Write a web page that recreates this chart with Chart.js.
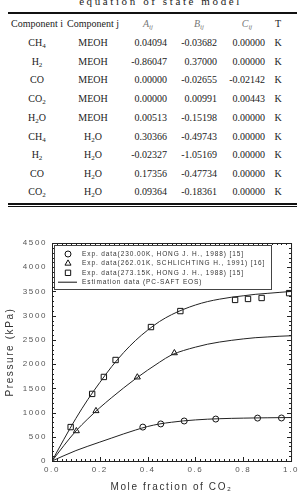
<!DOCTYPE html>
<html>
<head>
<meta charset="utf-8">
<script src="https://cdn.jsdelivr.net/npm/chart.js@4/dist/chart.umd.min.js"></script>
<style>
  body { margin: 0; width: 303px; height: 495px; overflow: hidden; position: relative; background: #fff;
         font-family: "Liberation Serif", "DejaVu Serif", serif; color: #222; }
  #title { position: absolute; left: 0; width: 303px; top: -5px; text-align: center; padding-left: 18px;
           box-sizing: border-box; font-size: 11px; letter-spacing: 2.6px; }
  .rule { position: absolute; left: 8px; width: 289px; background: #111; }
  .cell { position: absolute; font-size: 10px; white-space: nowrap; line-height: 12px; }
  .c { transform: translate(-50%, -50%); }
  .r { transform: translate(-100%, -50%); }
  sub { font-size: 7px; vertical-align: -2px; line-height: 0; }
  .hd { font-style: italic; color: #777; }
  #wrap { position: absolute; left: 0; top: 225px; width: 303px; height: 270px; }
</style>
</head>
<body>
<div id="title">equation of state model</div>
<div class="rule" style="top:12px;height:2px"></div>
<div class="rule" style="top:203px;height:1.5px"></div>
<div class="rule" style="top:206px;height:1px"></div>
<div id="table"></div>
<div id="wrap"><canvas id="chart"></canvas></div>

<script>
// table
const headers = ['Component i', 'Component j', '<i>A</i><sub><i>ij</i></sub>', '<i>B</i><sub><i>ij</i></sub>', '<i>C</i><sub><i>ij</i></sub>', 'T'];
const compI = ['CH<sub>4</sub>', 'H<sub>2</sub>', 'CO', 'CO<sub>2</sub>', 'H<sub>2</sub>O', 'CH<sub>4</sub>', 'H<sub>2</sub>', 'CO', 'CO<sub>2</sub>'];
const compJ = ['MEOH', 'MEOH', 'MEOH', 'MEOH', 'MEOH', 'H<sub>2</sub>O', 'H<sub>2</sub>O', 'H<sub>2</sub>O', 'H<sub>2</sub>O'];
const aij = ['0.04094', '-0.86047', '0.00000', '0.00000', '0.00513', '0.30366', '-0.02327', '0.17356', '0.09364'];
const bij = ['-0.03682', '0.37000', '-0.02655', '0.00991', '-0.15198', '-0.49743', '-1.05169', '-0.47734', '-0.18361'];
const cij = ['0.00000', '0.00000', '-0.02142', '0.00443', '0.00000', '0.00000', '0.00000', '0.00000', '0.00000'];
const unit = ['K', 'K', 'K', 'K', 'K', 'K', 'K', 'K', 'K'];

// chart data
const circX = [0.38, 0.455, 0.553, 0.685, 0.86, 0.96];
const circP = [700, 765, 826, 866, 886, 888];
const triX = [0.102, 0.184, 0.357, 0.512];
const triP = [620, 1035, 1730, 2230];
const sqX = [0.078, 0.168, 0.217, 0.266, 0.414, 0.537, 0.766, 0.82, 0.877, 0.992];
const sqP = [700, 1385, 1735, 2085, 2765, 3095, 3325, 3345, 3365, 3465];
const fitX = [0, 0.05, 0.1, 0.15, 0.2, 0.25, 0.3, 0.35, 0.4, 0.45, 0.5, 0.55, 0.6, 0.65, 0.7, 0.75, 0.8, 0.85, 0.9, 0.95, 1.0];
const fit230 = [0, 110, 215, 305, 390, 475, 560, 640, 712, 765, 800, 828, 848, 863, 873, 880, 885, 889, 892, 895, 897];
const fit262 = [0, 320, 620, 870, 1100, 1310, 1510, 1700, 1875, 2040, 2190, 2280, 2350, 2410, 2455, 2490, 2520, 2545, 2560, 2575, 2585];
const fit273 = [0, 450, 880, 1270, 1620, 1950, 2240, 2490, 2700, 2880, 3020, 3130, 3220, 3290, 3340, 3380, 3410, 3440, 3460, 3480, 3500];
const legendText = [
  'Exp. data(230.00K, HONG J. H., 1988) [15]',
  'Exp. data(262.01K, SCHLICHTING H., 1991) [16]',
  'Exp. data(273.15K, HONG J. H., 1988) [15]',
  'Estimation data (PC-SAFT EOS)'
];

// build table
const rowY = [43, 61.5, 80, 99, 117.5, 136.5, 155, 173.5, 192];
const colX = [37, 93, 167, 217, 265, 278];
const colAlign = ['c', 'c', 'r', 'r', 'r', 'c'];
const table = document.getElementById('table');
function cell(html, x, y, cls) {
  const d = document.createElement('div');
  d.className = 'cell ' + cls;
  d.style.left = x + 'px';
  d.style.top = y + 'px';
  d.innerHTML = html;
  table.appendChild(d);
}
const headX = [37, 93, 148, 199, 247, 278];
headers.forEach((h, i) => cell(h, headX[i], 24, 'c' + (i >= 2 && i <= 4 ? ' hd' : '')));
const cols = [compI, compJ, aij, bij, cij, unit];
rowY.forEach((y, r) => cols.forEach((col, i) => cell(col[r], colX[i], y, colAlign[i])));

const pts = (xs, ys) => xs.map((x, i) => ({x: x, y: ys[i]}));

// frame + inward ticks on all four sides
const frame = {
  id: 'frame',
  beforeDatasetsDraw(c) {
    const {ctx, chartArea: a, scales: {x, y}} = c;
    ctx.save();
    ctx.strokeStyle = '#222';
    ctx.lineWidth = 1;
    ctx.strokeRect(a.left + 0.5, a.top + 0.5, a.right - a.left, a.bottom - a.top);
    ctx.beginPath();
    for (let i = 0; i <= 50; i++) {
      const px = Math.round(x.getPixelForValue(i * 0.02)) + 0.5;
      const len = i % 10 === 0 ? 4 : 2;
      ctx.moveTo(px, a.bottom); ctx.lineTo(px, a.bottom - len);
      ctx.moveTo(px, a.top); ctx.lineTo(px, a.top + len);
    }
    for (let i = 0; i <= 45; i++) {
      const py = Math.round(y.getPixelForValue(i * 100)) + 0.5;
      const len = i % 5 === 0 ? 4 : 2;
      ctx.moveTo(a.left, py); ctx.lineTo(a.left + len, py);
      ctx.moveTo(a.right, py); ctx.lineTo(a.right - len, py);
    }
    ctx.stroke();
    ctx.restore();
  }
};

// legend box inside plot
const legendBox = {
  id: 'legendBox',
  afterDraw(c) {
    const {ctx, chartArea: a} = c;
    const left = a.left + 2.5, top = a.top + 2.5;
    ctx.save();
    ctx.fillStyle = '#fff';
    ctx.fillRect(left, top, 217, 44);
    ctx.strokeStyle = '#444';
    ctx.lineWidth = 1;
    ctx.strokeRect(left, top, 217, 44);
    const styles = ['circle', 'triangle', 'rect'];
    const radii = [3, 3.5, 3.8];
    legendText.forEach((t, i) => {
      const yy = a.top + 11 + i * 9.4;
      ctx.strokeStyle = '#111';
      ctx.fillStyle = '#fff';
      if (i < 3) {
        Chart.helpers.drawPoint(ctx, {pointStyle: styles[i], radius: radii[i], borderWidth: 1}, a.left + 16, yy);
      } else {
        ctx.beginPath();
        ctx.moveTo(a.left + 6, yy); ctx.lineTo(a.left + 25, yy);
        ctx.stroke();
      }
      ctx.fillStyle = '#333';
      ctx.font = '6.5px "Liberation Sans", Arial, sans-serif';
      ctx.letterSpacing = '0.9px';
      ctx.textBaseline = 'middle';
      ctx.fillText(t, a.left + 30, yy);
    });
    ctx.restore();
  }
};

const spacing = {
  id: 'spacing',
  beforeLayout(c) { c.ctx.letterSpacing = '1.6px'; },
  beforeDraw(c) { c.ctx.letterSpacing = '1.6px'; }
};

const scatterSet = (xs, ys, style, r) => ({
  data: pts(xs, ys), pointStyle: style, pointRadius: r, pointHoverRadius: r,
  backgroundColor: 'rgba(0,0,0,0)', borderColor: '#111', borderWidth: 1, showLine: false
});
const fitSet = ys => ({
  data: pts(fitX, ys), showLine: true, pointRadius: 0, borderColor: '#222', borderWidth: 1,
  tension: 0.4, cubicInterpolationMode: 'monotone'
});

new Chart(document.getElementById('chart'), {
  type: 'scatter',
  data: {
    datasets: [
      fitSet(fit230), fitSet(fit262), fitSet(fit273),
      scatterSet(circX, circP, 'circle', 3),
      scatterSet(triX, triP, 'triangle', 3.5),
      scatterSet(sqX, sqP, 'rect', 3.8)
    ]
  },
  options: {
    responsive: true,
    maintainAspectRatio: false,
    animation: false,
    layout: {padding: {left: 0, right: 7, top: 18, bottom: 0}},
    plugins: {legend: {display: false}, tooltip: {enabled: false}},
    scales: {
      x: {
        type: 'linear', min: 0, max: 1,
        grid: {display: false, drawTicks: false}, border: {display: false},
        ticks: {stepSize: 0.2, padding: 4, color: '#555', font: {size: 8, family: '"Liberation Sans", Arial'},
                maxRotation: 0, callback: v => v.toFixed(1)},
        title: {display: true, text: 'Mole fraction of CO₂', color: '#333', padding: {top: 0, bottom: 2},
                font: {size: 10, family: '"Liberation Sans", Arial'}},
        afterFit(s) { s.height = 34; }
      },
      y: {
        min: 0, max: 4500,
        grid: {display: false, drawTicks: false}, border: {display: false},
        ticks: {stepSize: 500, padding: 5, color: '#555', font: {size: 8, family: '"Liberation Sans", Arial'},
                callback: v => String(v)},
        title: {display: true, text: 'Pressure (kPa)', color: '#333', padding: {top: 4, bottom: 0},
                font: {size: 10, family: '"Liberation Sans", Arial'}},
        afterFit(s) { s.width = 52; }
      }
    }
  },
  plugins: [spacing, frame, legendBox]
});
</script>
</body>
</html>
